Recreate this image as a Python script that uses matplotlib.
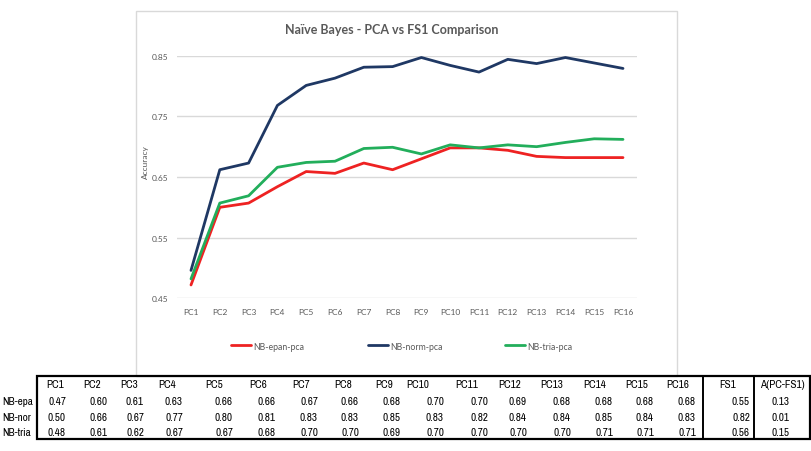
import matplotlib
matplotlib.use("Agg")
import matplotlib.pyplot as plt
from matplotlib.transforms import Bbox, TransformedBbox
from matplotlib.patches import Rectangle

# ---------------- data ----------------
pcs = ['PC1', 'PC2', 'PC3', 'PC4', 'PC5', 'PC6', 'PC7', 'PC8', 'PC9', 'PC10',
       'PC11', 'PC12', 'PC13', 'PC14', 'PC15', 'PC16']
series_names = ['NB-epan-pca', 'NB-norm-pca', 'NB-tria-pca']
row_labels = ['NB-epa', 'NB-nor', 'NB-tria']
epan = [0.472, 0.600, 0.607, 0.634, 0.659, 0.656, 0.673, 0.662, 0.680, 0.698,
        0.698, 0.694, 0.684, 0.682, 0.682, 0.682]
norm = [0.496, 0.662, 0.673, 0.768, 0.801, 0.813, 0.831, 0.832, 0.847, 0.834,
        0.823, 0.844, 0.837, 0.847, 0.838, 0.829]
tria = [0.482, 0.607, 0.619, 0.666, 0.674, 0.676, 0.697, 0.699, 0.688, 0.703,
        0.698, 0.703, 0.700, 0.707, 0.713, 0.712]
fs1 = [0.55, 0.82, 0.56]
diff = [0.13, 0.01, 0.15]
yticks = [0.45, 0.55, 0.65, 0.75, 0.85]
colors = ['#EE2222', '#1F3864', '#22AE5B']

W, H = 812, 452
fig = plt.figure(figsize=(W / 100, H / 100), dpi=100)
fig.patch.set_facecolor('white')

# overlay axes in pixel coordinates for frame + table
ov = fig.add_axes([0, 0, 1, 1], zorder=0)
ov.set_xlim(0, W)
ov.set_ylim(H, 0)
ov.axis('off')

# chart frame
ov.add_patch(Rectangle((136, 12), 541, 365, fill=False, edgecolor='#D9D9D9', lw=1))

# ---------------- chart ----------------
x0, x1 = 176.6, 637.4
y0, y1 = 299.3, 56.7
ax = fig.add_axes([x0 / W, 1 - y0 / H, (x1 - x0) / W, (y0 - y1) / H], zorder=1)
ax.set_facecolor('none')
xs = list(range(len(pcs)))
for vals, name, c in zip([epan, norm, tria], series_names, colors):
    ax.plot(xs, vals, color=c, lw=2.0, label=name, solid_capstyle='round',
            solid_joinstyle='round')
ax.set_xlim(-0.5, len(pcs) - 0.5)
ax.set_ylim(0.45, 0.85)
ax.set_yticks(yticks)
ax.set_yticklabels([f'{v:.2f}' for v in yticks])
ax.set_xticks(xs)
ax.set_xticklabels(pcs)
for s in ax.spines.values():
    s.set_visible(False)
ax.grid(axis='y', color='#D9D9D9', lw=1)
ax.set_axisbelow(True)
ax.tick_params(axis='both', length=0, labelsize=6, labelcolor='#595959')
ax.tick_params(axis='x', pad=7)
ax.tick_params(axis='y', pad=6)
for t in ax.get_xticklabels() + ax.get_yticklabels():
    t.set_family('Lato')

fig.text(392 / W, 1 - 30 / H, 'Naïve Bayes - PCA vs FS1 Comparison', ha='center',
         va='center', fontsize=9, fontweight='bold', color='#595959', family='Lato')
fig.text(145 / W, 1 - 162 / H, 'Accuracy', rotation=90, ha='center', va='center',
         fontsize=6, color='#595959', family='Lato')

leg = ax.legend(loc='center', bbox_to_anchor=(402 / W, 1 - 347 / H),
                bbox_transform=fig.transFigure, ncol=3, frameon=False,
                prop={'family': 'Lato', 'size': 6.3}, handlelength=2.3,
                handletextpad=0.25, columnspacing=7.2)
for t in leg.get_texts():
    t.set_color('#595959')

# ---------------- table ----------------
tfont = {'family': ['Archivo Narrow', 'Liberation Sans'], 'size': 8, 'color': 'black'}
head_x = [55, 92, 129, 167, 214, 258, 301, 343, 384, 418, 467, 510, 552, 595,
          637, 678]
val_right = [66, 108, 144, 183, 233, 276, 318, 359, 401, 444, 488, 527, 571,
             613, 654, 696]
row_y = [402, 418, 433]
hy = 385

for hx, lab in zip(head_x, pcs):
    ov.text(hx, hy, lab, ha='center', va='center', **tfont)
ov.text(728, hy, 'FS1', ha='center', va='center', **tfont)
ov.text(782, hy, 'A(PC-FS1)', ha='center', va='center', **tfont)

clip = TransformedBbox(Bbox([[0, 378], [36, 440]]), ov.transData)
for ry, name, vals, f, d in zip(row_y, row_labels, [epan, norm, tria], fs1, diff):
    t = ov.text(2, ry, name, ha='left', va='center', **tfont)
    t.set_clip_box(clip)
    t.set_clip_on(True)
    for vr, v in zip(val_right, vals):
        ov.text(vr, ry, f'{v:.2f}', ha='right', va='center', **tfont)
    ov.text(750, ry, f'{f:.2f}', ha='right', va='center', **tfont)
    ov.text(781, ry, f'{d:.2f}', ha='center', va='center', **tfont)

ov.add_patch(Rectangle((37, 377), 773, 63, fill=False, edgecolor='black', lw=1.6,
                       zorder=5))
ov.plot([703, 703], [377, 440], color='black', lw=1.4, zorder=5)
ov.plot([754, 754], [377, 440], color='black', lw=1.4, zorder=5)

fig.savefig('out.png', dpi=100, facecolor='white')
